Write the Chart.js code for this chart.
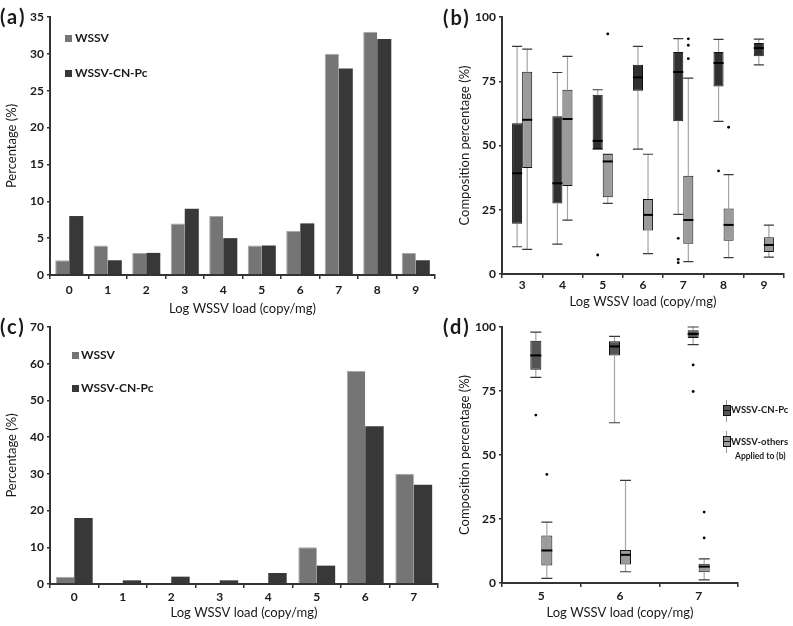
<!DOCTYPE html>
<html><head><meta charset="utf-8">
<script src="https://cdn.jsdelivr.net/npm/chart.js@4.4.0/dist/chart.umd.min.js"></script>
<style>
body{margin:0;background:#fff;width:793px;height:626px;position:relative;overflow:hidden;font-family:Lato,"DejaVu Sans",sans-serif;color:#1a1a1a;}
canvas{position:absolute;}
.t{position:absolute;font-weight:bold;white-space:nowrap;line-height:1;}
.pl{font-size:20px;letter-spacing:2px;}
.sq{position:absolute;width:7px;height:7px;}
.lg{font-size:12px;}
.ic{position:absolute;}
</style></head><body>
<canvas id="ca" width="440" height="322" style="left:0;top:0"></canvas>
<canvas id="cb" width="353" height="310" style="left:440px;top:0"></canvas>
<canvas id="cc" width="445" height="316" style="left:0;top:310px"></canvas>
<canvas id="cd" width="353" height="316" style="left:440px;top:310px"></canvas>

<div class="t pl" style="left:0;top:6px">(a)</div>
<div class="t pl" style="left:443px;top:7px">(b)</div>
<div class="t pl" style="left:0;top:316px">(c)</div>
<div class="t pl" style="left:443px;top:316px">(d)</div>

<div class="sq" style="left:65px;top:35px;background:#757575"></div>
<div class="t lg" style="left:75px;top:32px">WSSV</div>
<div class="sq" style="left:65px;top:70px;background:#383838"></div>
<div class="t lg" style="left:75px;top:67px">WSSV-CN-Pc</div>

<div class="sq" style="left:72px;top:352px;background:#757575"></div>
<div class="t lg" style="left:81px;top:349px">WSSV</div>
<div class="sq" style="left:72px;top:385px;background:#383838"></div>
<div class="t lg" style="left:81px;top:382px">WSSV-CN-Pc</div>

<div class="ic" style="left:726px;top:400px;width:1px;height:22px;background:#999"></div>
<div class="ic" style="left:723px;top:405px;width:6px;height:9px;background:#555;border:1px solid #111"></div>
<div class="ic" style="left:723px;top:410px;width:8px;height:1px;background:#111"></div>
<div class="t" style="left:731px;top:405px;font-size:9.5px">WSSV-CN-Pc</div>
<div class="ic" style="left:726px;top:431px;width:1px;height:22px;background:#999"></div>
<div class="ic" style="left:723px;top:436px;width:6px;height:9px;background:#9b9b9b;border:1px solid #111"></div>
<div class="ic" style="left:723px;top:441px;width:8px;height:1px;background:#111"></div>
<div class="t" style="left:731px;top:437px;font-size:9.5px">WSSV-others</div>
<div class="t" style="left:735px;top:452px;font-size:8.5px">Applied to (b)</div>

<script>
// ---------- data ----------
const catsA = ['0','1','2','3','4','5','6','7','8','9'];
const wssvA = [2,4,3,7,8,4,6,30,33,3];
const cnpcA = [8,2,3,9,5,4,7,28,32,2];

const catsC = ['0','1','2','3','4','5','6','7'];
const wssvC = [2,0,0,0,0,10,58,30];
const cnpcC = [18,1,2,1,3,5,43,27];

const catsB = ['3','4','5','6','7','8','9'];
const cnpcB_min = [10.6,11.6,48.6,48.6,23.2,59.4,81.4];
const cnpcB_q1  = [19.6,27.4,48.6,71.3,59.4,73.0,84.7];
const cnpcB_med = [39.2,35.3,51.8,76.5,78.6,82.1,87.9];
const cnpcB_q3  = [58.7,61.4,69.7,81.4,86.4,86.4,89.9];
const cnpcB_max = [88.6,78.4,71.7,88.6,91.6,91.3,91.4];
const cnpcB_out = [[],[],[7.4],[],[13.9,5.7,4.4],[40.1],[]];
const othB_min = [9.6,21.0,27.5,7.9,4.8,6.4,6.6];
const othB_q1  = [41.2,34.2,29.9,16.9,11.8,12.9,8.6];
const othB_med = [60.0,60.3,43.8,23.0,21.0,19.1,11.3];
const othB_q3  = [78.7,71.7,46.6,29.2,38.2,25.5,14.3];
const othB_max = [87.5,84.7,46.6,46.6,76.2,38.7,19.0];
const othB_out = [[],[],[93.4],[],[91.5,89.0,83.8],[57.1],[]];

const catsD = ['5','6','7'];
const cnpcD_min = [80.3,62.6,93.1];
const cnpcD_q1  = [83.3,88.9,95.7];
const cnpcD_med = [88.9,92.4,97.3];
const cnpcD_q3  = [94.6,94.4,98.7];
const cnpcD_max = [98.0,96.3,100];
const cnpcD_out = [[65.6],[],[85.2,74.8]];
const othD_min = [1.8,4.4,1.2];
const othD_q1  = [6.8,7.2,4.2];
const othD_med = [12.7,11.0,6.4];
const othD_q3  = [18.6,12.9,7.5];
const othD_max = [23.8,40.1,9.4];
const othD_out = [[42.4],[],[27.7,17.6]];

const xTitle = 'Log WSSV load (copy/mg)';

// ---------- helpers ----------
Chart.defaults.font.family = 'Lato, "DejaVu Sans", sans-serif';
Chart.defaults.color = '#1a1a1a';

function xAxis(o){
  return {
    grid:{display:true, drawOnChartArea:false, offset:true, tickLength:4, color:'#333', lineWidth:1.5},
    border:{display:true, color:'#333', width:2},
    ticks:{font:{size:12, weight:'bold'}, color:'#1a1a1a', padding:o.xpad, maxRotation:0, autoSkip:false},
    title:{display:true, text:xTitle, font:{size:13}, color:'#1a1a1a', padding:{top:0, bottom:o.xtp}},
    afterFit(s){ s.height = o.xh; }
  };
}
function yAxis(o, title){
  return {
    min:0, max:o.ymax,
    ticks:{stepSize:o.step, font:{size:12, weight:'bold'}, color:'#1a1a1a', padding:3},
    grid:{display:true, drawOnChartArea:false, tickLength:3, color:'#333', lineWidth:1.5},
    border:{display:true, color:'#333', width:2},
    title:{display:true, text:title, font:{size:13}, color:'#1a1a1a', padding:{top:o.ytp, bottom:0}},
    afterFit(s){ s.width = o.yw; }
  };
}

function makeBar(id, cats, s1, s2, o){
  new Chart(document.getElementById(id), {
    type:'bar',
    data:{labels:cats, datasets:[
      {label:'WSSV', data:s1, backgroundColor:'#757575', borderColor:'#a8a8a8',
       borderWidth:{top:1,left:1,right:0,bottom:0}, borderSkipped:'bottom', barPercentage:1, categoryPercentage:o.cp},
      {label:'WSSV-CN-Pc', data:s2, backgroundColor:'#383838', borderWidth:0, barPercentage:1, categoryPercentage:o.cp}
    ]},
    options:{
      responsive:false, devicePixelRatio:1, animation:false,
      layout:{padding:{left:0, top:o.top, right:o.right, bottom:0}},
      plugins:{legend:{display:false}, tooltip:{enabled:false}},
      scales:{x:xAxis(o), y:yAxis(o, 'Percentage (%)')}
    }
  });
}

function boxPlugin(stats){
  return {
    id:'boxWhiskers',
    beforeDatasetsDraw(chart){
      const y = chart.scales.y, ctx = chart.ctx;
      stats.forEach((st, di) => {
        chart.getDatasetMeta(di).data.forEach((bar, j) => {
          const x = bar.x, hw = bar.width/2;
          const pMin = y.getPixelForValue(st.min[j]), pQ1 = y.getPixelForValue(st.q1[j]);
          const pQ3 = y.getPixelForValue(st.q3[j]), pMax = y.getPixelForValue(st.max[j]);
          ctx.save();
          ctx.strokeStyle = '#a5a5a5'; ctx.lineWidth = 1.2;
          ctx.beginPath(); ctx.moveTo(x, pQ3); ctx.lineTo(x, pMax); ctx.moveTo(x, pQ1); ctx.lineTo(x, pMin); ctx.stroke();
          ctx.strokeStyle = '#3a3a3a'; ctx.lineWidth = 1.2;
          ctx.beginPath(); ctx.moveTo(x-hw, pMax); ctx.lineTo(x+hw, pMax); ctx.moveTo(x-hw, pMin); ctx.lineTo(x+hw, pMin); ctx.stroke();
          ctx.restore();
        });
      });
    },
    afterDatasetsDraw(chart){
      const y = chart.scales.y, ctx = chart.ctx;
      stats.forEach((st, di) => {
        chart.getDatasetMeta(di).data.forEach((bar, j) => {
          const x = bar.x, hw = bar.width/2;
          const pMed = y.getPixelForValue(st.med[j]);
          ctx.save();
          ctx.strokeStyle = '#000'; ctx.lineWidth = 2;
          ctx.beginPath(); ctx.moveTo(x-hw, pMed); ctx.lineTo(x+hw, pMed); ctx.stroke();
          ctx.fillStyle = '#000';
          st.out[j].forEach(v => {
            ctx.beginPath(); ctx.arc(x, y.getPixelForValue(v), 1.4, 0, Math.PI*2); ctx.fill();
          });
          ctx.restore();
        });
      });
    }
  };
}

function makeBox(id, cats, A, B, o){
  new Chart(document.getElementById(id), {
    type:'bar',
    data:{labels:cats, datasets:[
      {label:'WSSV-CN-Pc', data:A.q1.map((v,i)=>[v, A.q3[i]]), backgroundColor:o.dark, borderColor:'#111',
       borderWidth:1, borderSkipped:false, barPercentage:1, categoryPercentage:o.cp},
      {label:'WSSV-others', data:B.q1.map((v,i)=>[v, B.q3[i]]), backgroundColor:'#9b9b9b', borderColor:'#111',
       borderWidth:1, borderSkipped:false, barPercentage:1, categoryPercentage:o.cp}
    ]},
    options:{
      responsive:false, devicePixelRatio:1, animation:false,
      layout:{padding:{left:0, top:o.top, right:o.right, bottom:0}},
      plugins:{legend:{display:false}, tooltip:{enabled:false}},
      scales:{x:xAxis(o), y:yAxis(o, 'Composition percentage (%)')}
    },
    plugins:[boxPlugin([A, B])]
  });
}

// ---------- charts ----------
makeBar('ca', catsA, wssvA, cnpcA, {cp:0.73, top:17, right:5, yw:50, xh:47, xpad:4, xtp:5, ytp:4, ymax:35, step:5});
makeBar('cc', catsC, wssvC, cnpcC, {cp:0.76, top:17, right:7, yw:50, xh:42, xpad:2, xtp:5, ytp:4, ymax:70, step:10});

makeBox('cb', catsB,
  {min:cnpcB_min, q1:cnpcB_q1, med:cnpcB_med, q3:cnpcB_q3, max:cnpcB_max, out:cnpcB_out},
  {min:othB_min, q1:othB_q1, med:othB_med, q3:othB_q3, max:othB_max, out:othB_out},
  {cp:0.5, dark:'#303030', top:17, right:9, yw:62, xh:36, xpad:0, xtp:0, ytp:17, ymax:100, step:25});

makeBox('cd', catsD,
  {min:cnpcD_min, q1:cnpcD_q1, med:cnpcD_med, q3:cnpcD_q3, max:cnpcD_max, out:cnpcD_out},
  {min:othD_min, q1:othD_q1, med:othD_med, q3:othD_q3, max:othD_max, out:othD_out},
  {cp:0.28, dark:'#555555', top:17, right:55, yw:62, xh:43, xpad:2, xtp:5, ytp:17, ymax:100, step:25});
</script>
</body></html>
